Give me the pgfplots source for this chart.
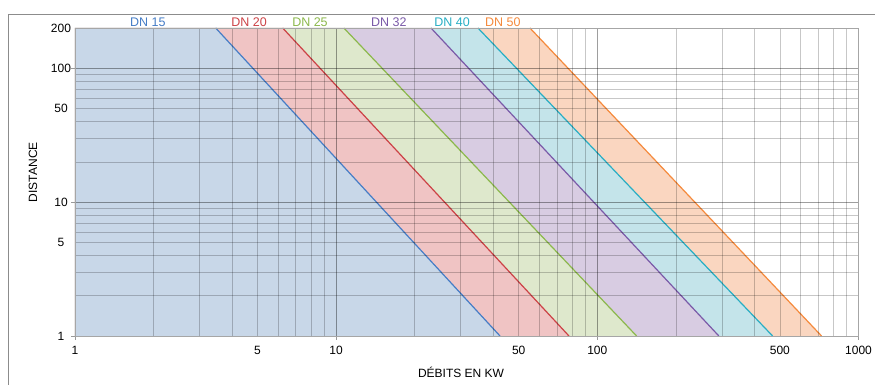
\documentclass[border=0pt]{standalone}
\usepackage{pgfplots}
\pgfplotsset{compat=1.18}
\usepackage{fontspec}
\setmainfont{Liberation Sans}
\definecolor{bfill}{RGB}{200,215,232}
\definecolor{bline}{RGB}{70,125,198}
\definecolor{rfill}{RGB}{240,196,196}
\definecolor{rline}{RGB}{204,66,70}
\definecolor{gfill}{RGB}{222,232,204}
\definecolor{gline}{RGB}{140,184,76}
\definecolor{pfill}{RGB}{216,204,226}
\definecolor{pline}{RGB}{122,90,168}
\definecolor{cfill}{RGB}{196,228,234}
\definecolor{cline}{RGB}{40,174,196}
\definecolor{ofill}{RGB}{250,214,192}
\definecolor{oline}{RGB}{245,138,60}
\begin{document}
\begin{tikzpicture}
\path[use as bounding box] (-75pt,-49pt) rectangle (800pt,336pt);
\draw[black!45, line width=0.8pt] (-67pt,-49pt) -- (-67pt,322pt) -- (800pt,322pt);
\begin{axis}[
  scale only axis, width=783.5pt, height=308pt,
  xmode=log, ymode=log,
  xmin=1, xmax=1000, ymin=1, ymax=200,
  clip=false, axis on top,
  axis line style={black!35},
  xtick={1,10,100,1000}, xticklabels={1,10,100,1000},
  ytick={1,10,100}, yticklabels={1,10,100},
  extra x ticks={5,50,500}, extra x tick labels={5,50,500},
  extra y ticks={5,50,200}, extra y tick labels={5,50,200},
  extra tick style={grid=none, tick style={draw=none}},
  minor xtick={2,3,4,5,6,7,8,9,20,30,40,50,60,70,80,90,200,300,400,500,600,700,800,900},
  minor ytick={2,3,4,5,6,7,8,9,20,30,40,50,60,70,80,90},
  minor tick length=0pt,
  major tick length=4pt, tick align=outside,
  tick style={black!40},
  xtick pos=bottom, ytick pos=left,
  grid=both,
  major grid style={black, opacity=0.38, line width=0.6pt},
  minor grid style={black, opacity=0.22, line width=0.6pt},
  /pgf/number format/assume math mode=true,
  tick label style={font=\fontsize{12}{14}\selectfont, text=black},
  yticklabel style={anchor=center, xshift=-10pt},
  xticklabel style={anchor=center, yshift=-10pt},
  xlabel={DÉBITS EN KW}, ylabel={DISTANCE},
  label style={font=\fontsize{12}{14}\selectfont},
  xlabel style={at={(axis description cs:0.4927,-0.1169)}, anchor=center},
  ylabel style={at={(axis description cs:-0.0536,0.532)}, anchor=center},
]
\addplot[draw=none, fill=ofill] coordinates {(1,1) (722,1) (55.2,200) (1,200)} -- cycle;
\addplot[draw=none, fill=cfill] coordinates {(1,1) (469,1) (34.9,200) (1,200)} -- cycle;
\addplot[draw=none, fill=pfill] coordinates {(1,1) (292,1) (23.07,200) (1,200)} -- cycle;
\addplot[draw=none, fill=gfill] coordinates {(1,1) (141.4,1) (10.7,200) (1,200)} -- cycle;
\addplot[draw=none, fill=rfill] coordinates {(1,1) (77.9,1) (6.24,200) (1,200)} -- cycle;
\addplot[draw=none, fill=bfill] coordinates {(1,1) (42.4,1) (3.457,200) (1,200)} -- cycle;
\addplot[oline, line width=1.2pt] coordinates {(722,1) (55.2,200)};
\addplot[cline, line width=1.2pt] coordinates {(469,1) (34.9,200)};
\addplot[pline, line width=1.2pt] coordinates {(292,1) (23.07,200)};
\addplot[gline, line width=1.2pt] coordinates {(141.4,1) (10.7,200)};
\addplot[rline, line width=1.2pt] coordinates {(77.9,1) (6.24,200)};
\addplot[bline, line width=1.2pt] coordinates {(42.4,1) (3.457,200)};
\node[anchor=base, text=bline, font=\fontsize{12.5}{14}\selectfont, yshift=1pt] at (axis cs:1.90,200) {DN 15};
\node[anchor=base, text=rline, font=\fontsize{12.5}{14}\selectfont, yshift=1pt] at (axis cs:4.64,200) {DN 20};
\node[anchor=base, text=gline, font=\fontsize{12.5}{14}\selectfont, yshift=1pt] at (axis cs:7.94,200) {DN 25};
\node[anchor=base, text=pline, font=\fontsize{12.5}{14}\selectfont, yshift=1pt] at (axis cs:15.9,200) {DN 32};
\node[anchor=base, text=cline, font=\fontsize{12.5}{14}\selectfont, yshift=1pt] at (axis cs:27.8,200) {DN 40};
\node[anchor=base, text=oline, font=\fontsize{12.5}{14}\selectfont, yshift=1pt] at (axis cs:43.5,200) {DN 50};
\end{axis}
\end{tikzpicture}
\end{document}
